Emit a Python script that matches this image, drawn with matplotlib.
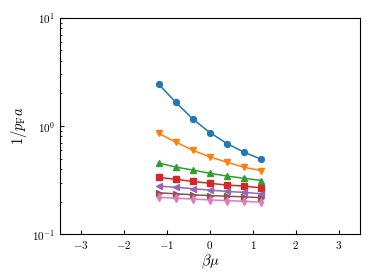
import matplotlib
matplotlib.use('Agg')
from matplotlib import pyplot as plt

# 数据
beta_mu = [-1.2, -0.8, -0.4, 0.0, 0.4, 0.8, 1.2]
inv_pfa_1 = [2.45, 1.66, 1.16, 0.867, 0.686, 0.571, 0.492]
inv_pfa_2 = [0.856, 0.711, 0.596, 0.517, 0.462, 0.415, 0.385]
inv_pfa_3 = [0.455, 0.417, 0.391, 0.365, 0.344, 0.328, 0.313]
inv_pfa_4 = [0.335, 0.321, 0.307, 0.295, 0.284, 0.278, 0.267]
inv_pfa_5 = [0.278, 0.271, 0.263, 0.255, 0.248, 0.243, 0.236]
inv_pfa_6 = [0.241, 0.236, 0.231, 0.227, 0.224, 0.221, 0.217]
inv_pfa_7 = [0.219, 0.215, 0.211, 0.207, 0.204, 0.201, 0.197]
series = [inv_pfa_1, inv_pfa_2, inv_pfa_3, inv_pfa_4, inv_pfa_5, inv_pfa_6, inv_pfa_7]
markers = ['o', 'v', '^', 's', '<', '>', 'd']

plt.rcParams['font.family'] = 'serif'
plt.rcParams['font.serif'] = ['cmr10']
plt.rcParams['mathtext.fontset'] = 'cm'
plt.rcParams['axes.formatter.use_mathtext'] = True
plt.rcParams['axes.unicode_minus'] = True

fig = plt.figure(figsize=(3.74, 2.8), dpi=100)
plt.subplots_adjust(left=0.160, right=0.963, top=0.936, bottom=0.164)
ax = plt.gca()

for i in range(len(series)):
    ax.plot(beta_mu, series[i], marker=markers[i], markersize=4.2, linewidth=1.1)

ax.set_yscale('log')
ax.set_xlim(-3.5, 3.5)
ax.set_ylim(0.1, 10)
ax.set_xticks([-3, -2, -1, 0, 1, 2, 3])
ax.tick_params(which='both', direction='in', labelsize=8)
ax.tick_params(which='major', length=3)
ax.tick_params(which='minor', length=1.5)
ax.set_xlabel(r'$\beta\mu$', fontsize=10.5, labelpad=1)
ax.set_ylabel(r'$1/p_{\rm F}a$', fontsize=10.5, labelpad=2)

plt.savefig('out.png')
